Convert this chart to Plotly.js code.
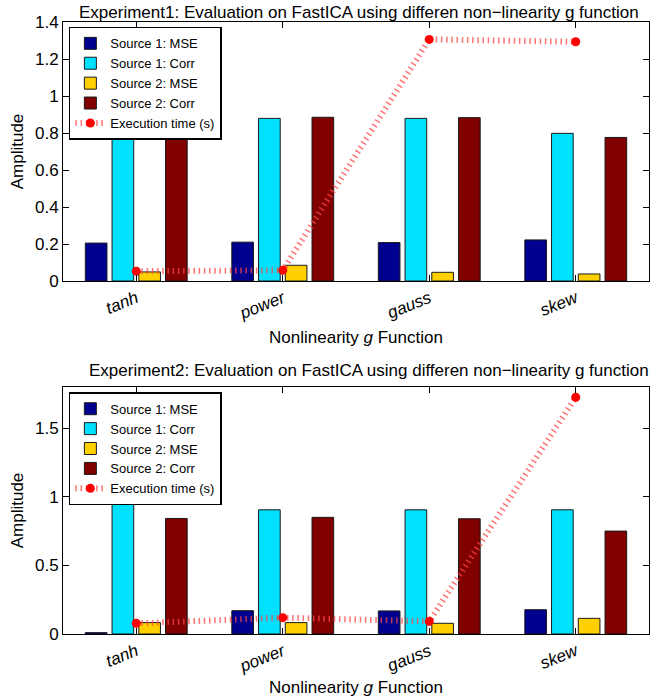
<!DOCTYPE html>
<html>
<head>
<meta charset="utf-8">
<script src="https://cdn.plot.ly/plotly-3.0.1.min.js"></script>
<style>html,body{margin:0;padding:0;background:#fff;}#chart{width:662px;height:697px;}</style>
</head>
<body>
<div id="chart"></div>
<script>
// ---- data ----
const categories = ["tanh", "power", "gauss", "skew"];
const seriesNames = ["Source 1: MSE", "Source 1: Corr", "Source 2: MSE", "Source 2: Corr"];
const lineName = "Execution time (s)";

// Experiment 1
const exp1_src1_mse  = [0.205, 0.210, 0.208, 0.222];
const exp1_src1_corr = [0.879, 0.879, 0.879, 0.798];
const exp1_src2_mse  = [0.049, 0.085, 0.047, 0.038];
const exp1_src2_corr = [0.883, 0.885, 0.883, 0.776];
const exp1_time      = [0.053, 0.058, 1.306, 1.293];

// Experiment 2
const exp2_src1_mse  = [0.010, 0.170, 0.168, 0.177];
const exp2_src1_corr = [0.944, 0.905, 0.905, 0.905];
const exp2_src2_mse  = [0.083, 0.083, 0.078, 0.114];
const exp2_src2_corr = [0.842, 0.850, 0.840, 0.750];
const exp2_time      = [0.078, 0.119, 0.092, 1.725];

const title1 = "Experiment1: Evaluation on FastICA using differen non\u2212linearity g function";
const title2 = "Experiment2: Evaluation on FastICA using differen non\u2212linearity g function";
const xTitle = "Nonlinearity <i>g</i> Function";
const yTitle = "Amplitude";
const yTicks1 = [0, 0.2, 0.4, 0.6, 0.8, 1, 1.2, 1.4];
const yTicks2 = [0, 0.5, 1, 1.5];

// ---- styles ----
const colors = ["#00008F", "#00E0FF", "#FFD000", "#800000"];
const FONT = "Liberation Sans, Arial, Helvetica, sans-serif";

function barTrace(name, y, color, xa, ya, legend) {
  return {
    type: "bar", name: name, x: categories, y: y,
    xaxis: xa, yaxis: ya, legend: legend,
    marker: {color: color, line: {color: "#1a1a1a", width: 1}},
    hoverinfo: "x+y+name"
  };
}
function lineTrace(y, xa, ya, legend) {
  return {
    type: "scatter", mode: "lines+markers", name: lineName, x: categories, y: y,
    xaxis: xa, yaxis: ya, legend: legend,
    line: {color: "rgba(255,70,70,0.75)", width: 6, dash: "1.5px,3.7px"},
    marker: {color: "#FF0000", size: 9, symbol: "circle"}
  };
}

const data = [
  barTrace(seriesNames[0], exp1_src1_mse,  colors[0], "x", "y", "legend"),
  barTrace(seriesNames[1], exp1_src1_corr, colors[1], "x", "y", "legend"),
  barTrace(seriesNames[2], exp1_src2_mse,  colors[2], "x", "y", "legend"),
  barTrace(seriesNames[3], exp1_src2_corr, colors[3], "x", "y", "legend"),
  lineTrace(exp1_time, "x", "y", "legend"),
  barTrace(seriesNames[0], exp2_src1_mse,  colors[0], "x2", "y2", "legend2"),
  barTrace(seriesNames[1], exp2_src1_corr, colors[1], "x2", "y2", "legend2"),
  barTrace(seriesNames[2], exp2_src2_mse,  colors[2], "x2", "y2", "legend2"),
  barTrace(seriesNames[3], exp2_src2_corr, colors[3], "x2", "y2", "legend2"),
  lineTrace(exp2_time, "x2", "y2", "legend2")
];

const axisCommon = {
  showline: true, linecolor: "#000", linewidth: 1, mirror: "ticks",
  ticks: "inside", ticklen: 6, tickcolor: "#000", tickwidth: 1,
  showgrid: false, zeroline: false,
  tickfont: {family: FONT, size: 17, color: "#000"}
};
function xAxis(anchor) {
  return Object.assign({}, axisCommon, {
    type: "category", range: [-0.5, 3.5], anchor: anchor,
    tickangle: -22,
    tickfont: {family: FONT, size: 17, color: "#000", style: "italic"},
    title: {text: xTitle, font: {family: FONT, size: 17, color: "#000"}, standoff: 8}
  });
}
function yAxis(anchor, domain, range, ticks) {
  return Object.assign({}, axisCommon, {
    anchor: anchor, domain: domain, range: range,
    tickmode: "array", tickvals: ticks, ticktext: ticks.map(String),
    title: {text: yTitle, font: {family: FONT, size: 17, color: "#000"}, standoff: 6}
  });
}
function legendBox(y) {
  return {
    x: 0.01, xanchor: "left", y: y, yanchor: "top",
    bgcolor: "#fff", bordercolor: "#000", borderwidth: 1.5,
    font: {family: FONT, size: 13, color: "#000"},
    itemwidth: 30, traceorder: "normal", tracegroupgap: 0
  };
}

const layout = {
  width: 662, height: 697,
  margin: {l: 63, r: 13, t: 22, b: 63},
  paper_bgcolor: "#fff", plot_bgcolor: "#fff",
  font: {family: FONT, color: "#000"},
  barmode: "group", bargap: 0.27, bargroupgap: 0.19,
  xaxis: xAxis("y"),
  yaxis: yAxis("x", [0.5768, 1], [0, 1.4], yTicks1),
  xaxis2: xAxis("y2"),
  yaxis2: yAxis("x2", [0, 0.4036], [0, 1.8], yTicks2),
  legend: legendBox(0.992),
  legend2: legendBox(0.395),
  annotations: [
    {text: title1, xref: "paper", yref: "paper", x: 0.505, y: 1.016, xanchor: "center", yanchor: "middle",
     showarrow: false, font: {family: FONT, size: 17, color: "#000"}},
    {text: title2, xref: "paper", yref: "paper", x: 0.522, y: 0.431, xanchor: "center", yanchor: "middle",
     showarrow: false, font: {family: FONT, size: 17, color: "#000"}}
  ]
};

Plotly.newPlot("chart", data, layout, {displayModeBar: false, responsive: false});
</script>
</body>
</html>
